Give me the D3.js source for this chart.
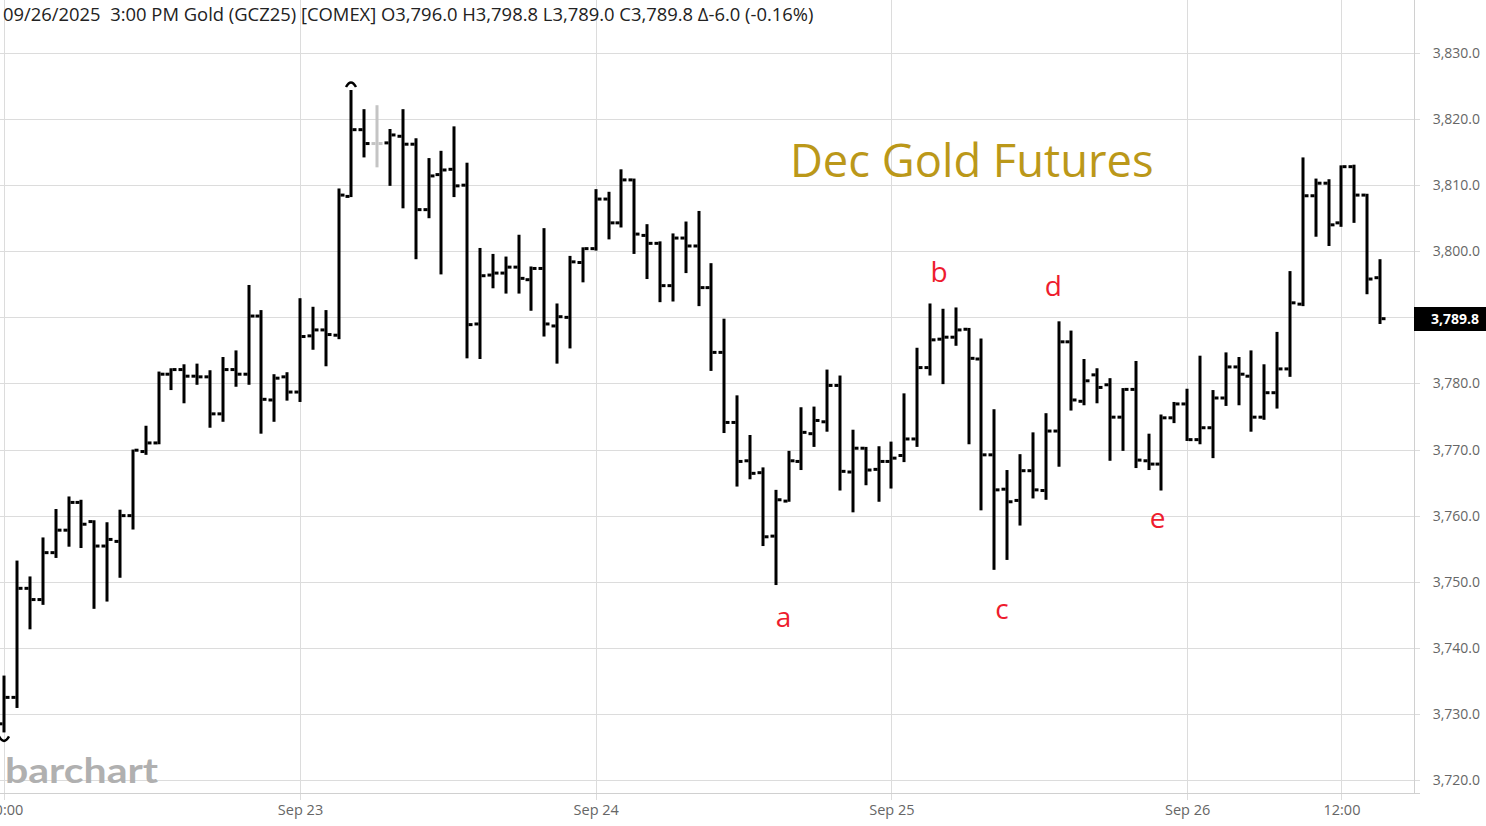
<!DOCTYPE html>
<html><head><meta charset="utf-8">
<script src="https://cdn.jsdelivr.net/npm/d3@7"></script>
<style>
body{margin:0;background:#fff;}
svg{display:block;font-family:"Open Sans",sans-serif;}
</style>
</head><body>
<svg id="chart" width="1486" height="826"></svg>
<script>
// ---------- data ----------
const days = ["Sep 22","Sep 23","Sep 24","Sep 25","Sep 26"];
const sessionHours = ["00","01","02","03","04","05","06","07","08","09","10","11","12","13","14","15","17","18","19","20","21","22","23"];
const barCount = 108;
const categories = [];
days.forEach(d => sessionHours.forEach(h => { if (categories.length < barCount) categories.push(d + " " + h + ":00"); }));

const open  = [3728.5,3732.5,3749.0,3747.3,3754.4,3757.8,3762.0,3759.1,3755.4,3756.1,3760.0,3769.7,3771.0,3781.4,3782.1,3781.1,3781.0,3775.4,3782.1,3781.4,3790.2,3777.5,3781.0,3778.7,3787.2,3788.1,3787.3,3808.3,3818.4,3816.3,3816.4,3817.4,3816.2,3806.3,3811.6,3812.4,3810.0,3789.0,3796.4,3796.7,3797.6,3795.7,3797.4,3788.7,3790.0,3798.3,3800.4,3807.9,3804.3,3810.8,3802.4,3801.2,3794.8,3802.0,3800.8,3794.5,3784.7,3774.1,3768.3,3766.5,3756.9,3762.2,3768.2,3772.4,3774.2,3779.7,3766.6,3770.2,3767.0,3768.2,3769.1,3771.6,3782.4,3786.7,3787.0,3788.2,3783.7,3769.2,3764.0,3762.3,3766.8,3763.8,3772.8,3786.3,3777.3,3781.3,3779.8,3774.9,3779.1,3768.3,3767.8,3774.8,3776.9,3771.5,3773.3,3777.8,3782.5,3781.1,3774.9,3778.6,3782.2,3792.0,3808.4,3810.3,3804.3,3812.8,3808.5,3796.0];
const high  = [3735.8,3753.2,3750.8,3756.7,3761.0,3762.9,3762.4,3759.3,3759.0,3760.9,3770.0,3773.6,3781.8,3782.3,3782.9,3783.0,3782.0,3784.0,3785.0,3794.9,3791.1,3781.4,3781.7,3792.9,3791.6,3791.1,3809.5,3824.4,3821.5,3822.1,3818.5,3821.5,3817.1,3814.1,3815.2,3818.9,3813.4,3800.5,3799.6,3799.2,3802.5,3797.7,3803.5,3792.1,3799.3,3800.6,3809.4,3809.0,3812.4,3811.0,3804.1,3801.5,3802.7,3804.5,3806.1,3798.2,3789.8,3778.2,3772.2,3767.3,3763.9,3769.8,3776.4,3776.5,3782.1,3781.2,3773.0,3770.4,3770.5,3771.2,3778.5,3785.4,3792.1,3791.3,3791.5,3788.4,3786.8,3776.1,3766.9,3769.3,3772.6,3775.5,3789.4,3788.0,3783.7,3782.3,3780.8,3779.3,3783.4,3772.4,3775.3,3777.2,3779.2,3784.2,3779.0,3784.7,3784.0,3785.0,3782.9,3787.8,3797.0,3814.2,3811.0,3810.9,3813.0,3813.1,3808.7,3798.8];
const low   = [3727.2,3730.9,3742.8,3746.5,3753.6,3755.3,3755.1,3745.9,3747.0,3750.6,3757.9,3769.2,3770.8,3779.0,3777.0,3779.8,3773.3,3774.2,3779.5,3779.8,3772.4,3774.2,3777.4,3777.2,3785.1,3782.6,3786.7,3808.2,3814.2,3812.7,3809.9,3806.5,3798.8,3805.0,3796.5,3808.2,3783.8,3783.7,3794.4,3793.6,3793.6,3791.0,3787.1,3783.0,3785.3,3795.3,3800.1,3801.8,3803.6,3799.6,3795.8,3792.3,3792.4,3796.7,3791.7,3781.9,3772.5,3764.4,3765.5,3755.4,3749.5,3762.1,3766.9,3770.4,3772.7,3763.8,3760.5,3764.6,3762.1,3764.1,3768.1,3770.4,3781.2,3779.9,3785.7,3770.8,3760.8,3751.8,3753.3,3758.5,3762.6,3762.4,3767.4,3775.9,3776.7,3777.0,3768.3,3769.8,3767.2,3766.9,3763.8,3774.0,3771.3,3770.8,3768.7,3776.6,3776.7,3772.7,3774.5,3776.2,3781.0,3791.7,3802.2,3800.8,3803.7,3804.3,3793.5,3789.0];
const close = [3732.5,3749.0,3747.3,3754.4,3757.8,3762.0,3758.7,3755.4,3756.4,3760.0,3769.9,3771.0,3781.4,3782.1,3781.1,3781.0,3775.4,3782.1,3781.4,3790.2,3777.6,3780.8,3778.7,3787.1,3788.1,3787.4,3808.5,3818.4,3816.3,3816.3,3817.6,3816.2,3806.3,3811.4,3812.3,3809.9,3788.9,3796.3,3796.7,3797.6,3795.9,3797.4,3789.0,3790.1,3798.4,3800.4,3807.9,3804.3,3810.8,3802.6,3801.2,3794.8,3802.0,3800.8,3794.5,3784.7,3774.1,3768.2,3766.4,3756.8,3762.4,3768.3,3772.6,3774.4,3779.7,3766.7,3770.2,3766.9,3768.2,3768.7,3771.6,3782.4,3786.6,3787.0,3788.1,3783.8,3769.2,3763.9,3762.1,3766.8,3763.9,3772.8,3786.3,3777.5,3780.4,3779.4,3774.9,3779.1,3768.4,3767.8,3774.8,3776.9,3771.5,3773.3,3777.8,3782.5,3781.4,3774.9,3778.6,3782.2,3792.2,3808.4,3810.3,3804.0,3812.8,3808.5,3795.8,3789.8];

const yTicks = [3720,3730,3740,3750,3760,3770,3780,3790,3800,3810,3820,3830];
const xTickCats = ["Sep 22 00:00","Sep 23 00:00","Sep 24 00:00","Sep 25 00:00","Sep 26 00:00","Sep 26 12:00"];
const xTickLabels = ["00:00","Sep 23","Sep 24","Sep 25","Sep 26","12:00"];

const noteLabels = ["a","b","c","d","e"];
const noteBars   = [60.6,72.7,77.6,81.6,89.7];
const notePrices = [3743.1,3795.3,3744.4,3793.3,3758.1];

const headerText = "09/26/2025\u00a0\u00a03:00 PM Gold (GCZ25) [COMEX] O3,796.0 H3,798.8 L3,789.0 C3,789.8 \u0394-6.0 (-0.16%)";
const titleText = "Dec Gold Futures";

// ---------- layout ----------
const W = 1486, H = 826;
const plotRight = 1414, plotBottom = 793;
const svg = d3.select("#chart");

const x = d3.scaleLinear().domain([0, barCount - 1]).range([4.3, 1380]);
const y = d3.scaleLinear().domain([3720, 3830]).range([780, 53]);
const xi = c => x(categories.indexOf(c));
const last = close[barCount - 1];

// gridlines
const grid = svg.append("g").attr("stroke", "#dcdcdc").attr("stroke-width", 1);
grid.selectAll(".h").data(yTicks).join("line")
  .attr("x1", 0).attr("x2", plotRight + 6)
  .attr("y1", d => Math.round(y(d)) + 0.5).attr("y2", d => Math.round(y(d)) + 0.5);
grid.selectAll(".v").data(xTickCats).join("line")
  .attr("y1", 0).attr("y2", plotBottom + 7)
  .attr("x1", d => Math.round(xi(d)) + 0.5).attr("x2", d => Math.round(xi(d)) + 0.5);
// frame
svg.append("line").attr("x1", plotRight + 0.5).attr("x2", plotRight + 0.5).attr("y1", 0).attr("y2", plotBottom)
  .attr("stroke", "#d0d0d0");
svg.append("line").attr("x1", 0).attr("x2", plotRight + 6).attr("y1", plotBottom + 0.5).attr("y2", plotBottom + 0.5)
  .attr("stroke", "#d0d0d0");

// right axis (labels hidden where the last-price tag covers them)
const yAxis = d3.axisRight(y).tickValues(yTicks.filter(t => Math.abs(y(t) - y(last)) > 14))
  .tickFormat(d3.format(",.1f")).tickSize(0).tickPadding(0);
const ya = svg.append("g").attr("transform", `translate(${plotRight},0)`).call(yAxis);
ya.select(".domain").remove();
ya.selectAll("text").attr("x", 1480 - plotRight).attr("text-anchor", "end")
  .attr("font-family", "Open Sans").attr("font-size", 14).attr("fill", "#666");

// bottom axis
const xAxis = d3.axisBottom(x).tickValues(xTickCats.map(c => categories.indexOf(c)))
  .tickFormat((d, i) => xTickLabels[i]).tickSize(0).tickPadding(0);
const xa = svg.append("g").attr("transform", `translate(0,${plotBottom})`).call(xAxis);
xa.select(".domain").remove();
xa.selectAll("text").attr("y", 12).attr("font-family", "Open Sans").attr("font-size", 14.5).attr("fill", "#666");

// logo
svg.append("text").attr("x", 5).attr("y", 783).text("barchart")
  .attr("font-family", "Lato").attr("font-weight", 700).attr("font-size", 34)
  .attr("fill", "#b0b0b0").attr("textLength", 153).attr("lengthAdjust", "spacingAndGlyphs");

// bars
const bars = d3.range(barCount).map(i => ({i, o: open[i], h: high[i], l: low[i], c: close[i],
  flat: i > 0 && close[i] === close[i - 1]}));
const bg = svg.append("g");
const gb = bg.selectAll("g").data(bars).join("g")
  .attr("fill", d => d.flat ? "#c4c4c4" : "#000");
gb.append("rect")
  .attr("x", d => Math.round(x(d.i)) - 1.5).attr("width", 3)
  .attr("y", d => y(d.h)).attr("height", d => y(d.l) - y(d.h));
gb.append("rect")
  .attr("x", d => Math.round(x(d.i)) - 5.5).attr("width", 4)
  .attr("y", d => y(d.o) - 1.5).attr("height", 3);
gb.append("rect")
  .attr("x", d => Math.round(x(d.i)) + 1.5).attr("width", 4)
  .attr("y", d => y(d.c) - 1.5).attr("height", 3);

// high / low markers
const hiIdx = d3.maxIndex(high), loIdx = d3.minIndex(low);
const hx = Math.round(x(hiIdx)), hy = y(high[hiIdx]);
svg.append("path").attr("d", `M${hx - 5},${hy - 3} Q${hx},${hy - 12} ${hx + 5},${hy - 3}`)
  .attr("fill", "none").attr("stroke", "#000").attr("stroke-width", 2.5);
const lx = Math.round(x(loIdx)), ly = y(low[loIdx]);
svg.append("path").attr("d", `M${lx - 5},${ly + 4} Q${lx},${ly + 13} ${lx + 5},${ly + 4}`)
  .attr("fill", "none").attr("stroke", "#000").attr("stroke-width", 2.5);

// annotations
svg.append("g").selectAll("text").data(noteLabels).join("text")
  .attr("x", (d, i) => x(noteBars[i])).attr("y", (d, i) => y(notePrices[i]))
  .attr("text-anchor", "middle").attr("font-family", "Open Sans").attr("font-size", 28)
  .attr("fill", "#ee1c2e").text(d => d);

svg.append("text").attr("x", 790).attr("y", 177).text(titleText)
  .attr("font-family", "Open Sans").attr("font-size", 45.3).attr("fill", "#bb9819");

// last price tag
svg.append("rect").attr("x", plotRight).attr("y", Math.round(y(last)) - 12).attr("width", W - plotRight).attr("height", 24)
  .attr("fill", "#000");
svg.append("text").attr("x", 1479).attr("y", Math.round(y(last)) + 5).attr("text-anchor", "end")
  .attr("font-family", "Open Sans").attr("font-weight", 700).attr("font-size", 14).attr("fill", "#fff")
  .text(d3.format(",.1f")(last));

// header
svg.append("text").attr("x", 3).attr("y", 20.5).text(headerText)
  .attr("font-family", "Open Sans").attr("font-size", 18.4).attr("fill", "#222");
</script>
</body></html>
